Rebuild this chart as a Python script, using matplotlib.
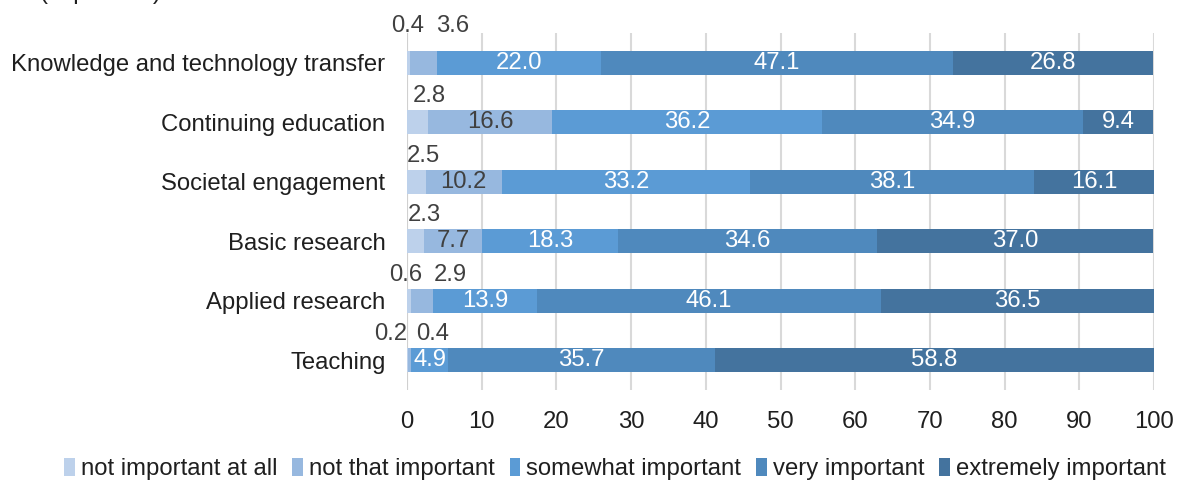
import matplotlib
matplotlib.use("Agg")
import matplotlib.pyplot as plt
import numpy as np

categories = ["Knowledge and technology transfer", "Continuing education",
              "Societal engagement", "Basic research", "Applied research", "Teaching"]
series_names = ["not important at all", "not that important", "somewhat important",
                "very important", "extremely important"]
not_at_all = [0.4, 2.8, 2.5, 2.3, 0.6, 0.2]
not_that = [3.6, 16.6, 10.2, 7.7, 2.9, 0.4]
somewhat = [22.0, 36.2, 33.2, 18.3, 13.9, 4.9]
very = [47.1, 34.9, 38.1, 34.6, 46.1, 35.7]
extremely = [26.8, 9.4, 16.1, 37.0, 36.5, 58.8]
x_ticks = [0, 10, 20, 30, 40, 50, 60, 70, 80, 90, 100]

colors = ["#BDD1EB", "#97B8DF", "#5B9BD5", "#4F89BD", "#44739E"]
text_colors = ["#404040", "#404040", "white", "white", "white"]

FONT = ["Liberation Sans", "DejaVu Sans"]
plt.rcParams['font.family'] = FONT
FS = 17.2

fig = plt.figure(figsize=(11.81, 4.82), dpi=100)
ax = fig.add_axes([407/1181, 1-390/482, (1154-407)/1181, (390-33)/482])

series = [not_at_all, not_that, somewhat, very, extremely]
y = np.arange(len(categories))
left = np.zeros(len(categories))
# label placement: labels above the bar (for thin segments), with offsets in pixels
above = {(0, 0): (-1, 37), (0, 1): (29, 37),
         (1, 0): (12, 26), (2, 0): (7, 26), (3, 0): (9, 26),
         (4, 0): (-4, 26), (4, 1): (28, 26),
         (5, 0): (-17, 26), (5, 1): (23, 26)}
for si, vals in enumerate(series):
    vals = np.array(vals)
    ax.barh(y, vals, left=left, height=0.4, color=colors[si], label=series_names[si], zorder=3)
    for ci, v in enumerate(vals):
        cx = left[ci] + v / 2
        if (ci, si) in above:
            dx, dy = above[(ci, si)]
            ax.annotate(f"{v:.1f}", (cx, y[ci]), xytext=(dx, dy), textcoords="offset pixels",
                        ha="center", va="center", fontsize=FS, color="#404040", zorder=4)
        else:
            ax.text(cx, y[ci], f"{v:.1f}", ha="center", va="center", fontsize=FS,
                    color=text_colors[si], zorder=4)
    left = left + vals

ax.set_ylim(len(categories) - 0.5, -0.5)
ax.set_xlim(0, 100)
ax.set_xticks(x_ticks)
ax.set_yticks(y)
ax.set_yticklabels(categories)
ax.tick_params(axis="both", length=0, labelsize=FS, colors="#1F1F1F")
ax.tick_params(axis="y", pad=15.5)
ax.tick_params(axis="x", pad=15)
ax.grid(axis="x", color="#D9D9D9", linewidth=1.5, zorder=0)
for s in ax.spines.values():
    s.set_visible(False)
ax.axvline(0, color="#D0D0D0", linewidth=1.5, zorder=2)

leg = fig.legend(loc="center", bbox_to_anchor=(615/1181, 1 - 469/482), ncol=5, frameon=False,
                 handlelength=0.45, handleheight=0.8, handletextpad=0.25, columnspacing=0.62,
                 prop={"family": ["Liberation Sans Narrow", "Liberation Sans"], "size": 17.2})
for t in leg.get_texts():
    t.set_color("#1F1F1F")

fig.text(40/1181, 1 + 1/482, "(in percent)", fontsize=FS, color="#1F1F1F", va="baseline", ha="left")

fig.savefig("out.png", dpi=100)
